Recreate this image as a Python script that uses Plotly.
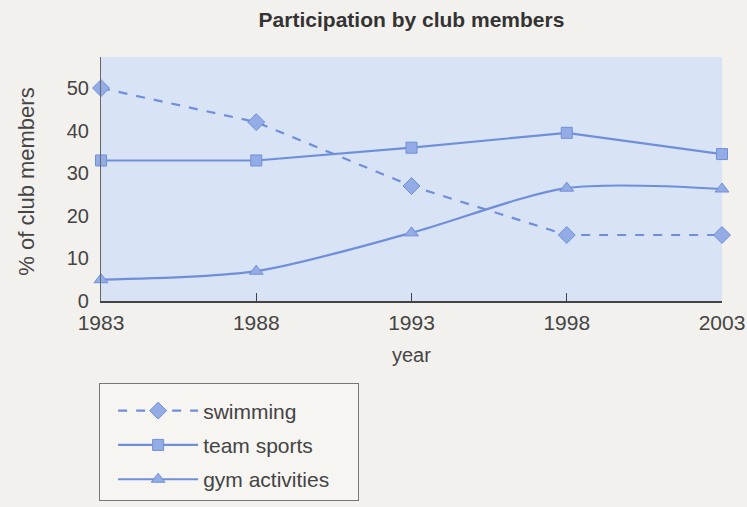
import plotly.graph_objects as go

years = [1983, 1988, 1993, 1998, 2003]
swimming = [50, 42, 27, 15.5, 15.5]
team_sports = [33, 33, 36, 39.5, 34.5]
gym_activities = [5, 7, 16, 26.5, 26.3]
series_names = ["swimming", "team sports", "gym activities"]

line_col = "#6f8fd9"
mark_col = "#94ace6"
font = "Liberation Sans, Arial, sans-serif"
pad = "\u00a0" * 4

fig = go.Figure()
fig.add_trace(go.Scatter(x=years, y=swimming, name=series_names[0] + pad, mode="lines+markers",
                         line=dict(color=line_col, width=2.2, dash="dash"),
                         marker=dict(symbol="diamond", size=13, color=mark_col,
                                     line=dict(color=line_col, width=1)),
                         cliponaxis=False, legendgroup="a"))
fig.add_trace(go.Scatter(x=years, y=team_sports, name=series_names[1] + pad, mode="lines+markers",
                         line=dict(color=line_col, width=2.2),
                         marker=dict(symbol="square", size=11, color=mark_col,
                                     line=dict(color=line_col, width=1)),
                         cliponaxis=False, legendgroup="b"))
fig.add_trace(go.Scatter(x=years, y=gym_activities, name=series_names[2] + pad, mode="lines+markers",
                         line=dict(color=line_col, width=2.2, shape="spline", smoothing=0.8),
                         marker=dict(symbol="triangle-up", size=12, color=mark_col,
                                     line=dict(color=line_col, width=1)),
                         cliponaxis=False, legendgroup="c"))

fig.update_layout(
    width=747, height=507,
    margin=dict(l=101, r=25, t=57, b=206, autoexpand=False),
    paper_bgcolor="#f3f1ee",
    plot_bgcolor="#d9e3f6",
    font=dict(family=font, color="#444444", size=21),
    title=dict(text="<b>Participation by club members</b>", x=0.5, xref="paper",
               y=0.962, yanchor="middle", font=dict(size=21, color="#333333")),
    xaxis=dict(range=[1983, 2003], tickvals=years, ticks="inside", ticklen=8,
               tickcolor="#444", showline=True, linecolor="#444", linewidth=1.5,
               showgrid=False, zeroline=False, tickfont=dict(size=21),
               ticklabelstandoff=2),
    yaxis=dict(range=[0, 57.3], tickvals=[0, 10, 20, 30, 40, 50], showline=True,
               linecolor="#666", linewidth=1.2, showgrid=False, zeroline=False,
               ticks="", tickfont=dict(size=20), ticklabelstandoff=7),
    showlegend=True,
    legend=dict(x=-0.003, y=-0.336, xanchor="left", yanchor="top",
                bgcolor="#f6f5f2", bordercolor="#777", borderwidth=1,
                font=dict(size=21, color="#444"), itemwidth=80, tracegroupgap=4,
                indentation=13,
                title=dict(text=" ", font=dict(size=5))),
    annotations=[
        dict(text="year", x=0.5, y=-0.22, xref="paper", yref="paper",
             showarrow=False, font=dict(size=20, color="#444"), yanchor="middle"),
        dict(text="% of club members", x=-0.143, y=0.488, xref="paper", yref="paper",
             showarrow=False, textangle=-90, font=dict(size=22, color="#444")),
    ],
)

fig.write_html("out.html", config={"displayModeBar": False},
               post_script="document.body.style.margin='0';")
